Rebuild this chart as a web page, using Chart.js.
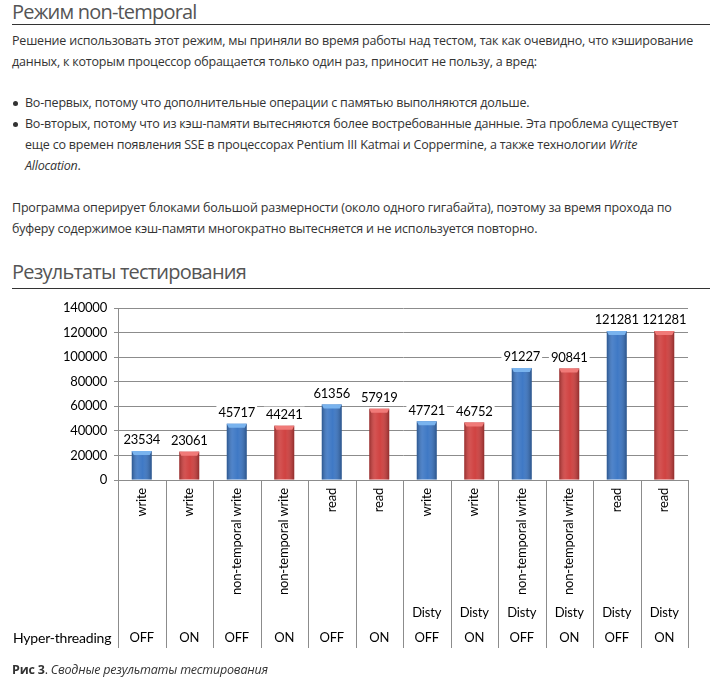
<!DOCTYPE html>
<html>
<head>
<meta charset="utf-8">
<script src="https://cdn.jsdelivr.net/npm/chart.js@4.4.0/dist/chart.umd.min.js"></script>
<style>
  body { margin: 0; background: #fff; width: 710px; height: 681px; overflow: hidden; position: relative;
         font-family: "Open Sans", sans-serif; font-size: 12.5px; letter-spacing: -0.2px; color: #333; }
  .h { position: absolute; left: 12px; font-size: 20px; letter-spacing: -0.8px; color: #555; line-height: 24px; white-space: nowrap; }
  .rule { position: absolute; left: 12px; right: 0; height: 1px; background: #333; }
  .p { position: absolute; left: 12px; right: 16px; line-height: 21px; }
  .p i { font-style: italic; }
  .b { position: relative; padding-left: 13px; }
  .b:before { content: ""; position: absolute; left: 1px; top: 9px; width: 5px; height: 5px; border-radius: 50%; background: #333; }
  #wrap { position: absolute; left: 0; top: 290px; width: 710px; height: 370px; }
  .cap { position: absolute; left: 12px; top: 659px; line-height: 21px; }
</style>
</head>
<body>
<div class="h" style="top:0">Режим non-temporal</div>
<div class="rule" style="top:24px"></div>
<div class="p" style="top:30px">Решение использовать этот режим, мы приняли во время работы над тестом, так как очевидно, что кэширование данных, к которым процессор обращается только один раз, приносит не пользу, а вред:</div>
<div class="p" style="top:92px">
  <div class="b">Во-первых, потому что дополнительные операции с памятью выполняются дольше.</div>
  <div class="b">Во-вторых, потому что из кэш-памяти вытесняются более востребованные данные. Эта проблема существует еще со времен появления SSE в процессорах Pentium III Katmai и Coppermine, а также технологии <i>Write Allocation</i>.</div>
</div>
<div class="p" style="top:197px">Программа оперирует блоками большой размерности (около одного гигабайта), поэтому за время прохода по буферу содержимое кэш-памяти многократно вытесняется и не используется повторно.</div>
<div class="h" style="top:260px">Результаты тестирования</div>
<div class="rule" style="top:288px"></div>
<div id="wrap"><canvas id="chart" width="710" height="370"></canvas></div>
<div class="cap"><b>Рис 3</b>. <i>Сводные результаты тестирования</i></div>

<script>
const ops = ['write', 'write', 'non-temporal write', 'non-temporal write', 'read', 'read',
             'write', 'write', 'non-temporal write', 'non-temporal write', 'read', 'read']
const mode = ['', '', '', '', '', '', 'Disty', 'Disty', 'Disty', 'Disty', 'Disty', 'Disty']
const hyperThreading = ['OFF', 'ON', 'OFF', 'ON', 'OFF', 'ON', 'OFF', 'ON', 'OFF', 'ON', 'OFF', 'ON']
const results = [23534, 23061, 45717, 44241, 61356, 57919, 47721, 46752, 91227, 90841, 121281, 121281]
const yMax = 140000
const yStep = 20000

const gridColor = '#8c8c8c'
const colors = { OFF: '#3b76c4', ON: '#cf3f3e' }
const capColors = { OFF: '#79b3ee', ON: '#f07a78' }
const chartFont = 'Lato, sans-serif'

// shading, top caps and value labels on the bars
const barDecor = {
    id: 'barDecor',
    afterDatasetsDraw(chart) {
        const ctx = chart.ctx
        const meta = chart.getDatasetMeta(0)
        ctx.save()
        meta.data.forEach((bar, i) => {
            const p = bar.getProps(['x', 'y', 'base', 'width'], true)
            const l = p.x - p.width / 2, r = p.x + p.width / 2
            const g = ctx.createLinearGradient(l, 0, r, 0)
            g.addColorStop(0, 'rgba(0,0,0,0.28)')
            g.addColorStop(0.3, 'rgba(255,255,255,0.10)')
            g.addColorStop(0.55, 'rgba(255,255,255,0.02)')
            g.addColorStop(1, 'rgba(0,0,0,0.30)')
            ctx.fillStyle = g
            ctx.fillRect(l, p.y, p.width, p.base - p.y)
            ctx.fillStyle = capColors[hyperThreading[i]]
            ctx.beginPath()
            ctx.moveTo(l, p.y)
            ctx.lineTo(r, p.y)
            ctx.lineTo(r - 2, p.y + 4)
            ctx.lineTo(l + 2, p.y + 4)
            ctx.closePath()
            ctx.fill()

            const txt = String(results[i])
            ctx.font = '13px ' + chartFont
            const w = ctx.measureText(txt).width
            ctx.fillStyle = '#fff'
            ctx.fillRect(p.x - w / 2 - 2, p.y - 19, w + 4, 16)
            ctx.fillStyle = '#000'
            ctx.textAlign = 'center'
            ctx.textBaseline = 'middle'
            ctx.fillText(txt, p.x, p.y - 11)
        })
        ctx.restore()
    }
}

// category table under the axis
const table = {
    id: 'table',
    afterDraw(chart) {
        const ctx = chart.ctx
        const x = chart.scales.x
        const area = chart.chartArea
        const half = (x.getPixelForValue(1) - x.getPixelForValue(0)) / 2
        const top = area.bottom
        const bottom = top + 168
        ctx.save()
        ctx.strokeStyle = gridColor
        ctx.lineWidth = 1
        for (let i = 0; i <= ops.length; i++) {
            const px = Math.round(x.getPixelForValue(0) - half + i * 2 * half) + 0.5
            ctx.beginPath()
            ctx.moveTo(px, top)
            ctx.lineTo(px, bottom)
            ctx.stroke()
        }
        ctx.fillStyle = '#000'
        ctx.font = '13px ' + chartFont
        ops.forEach((op, i) => {
            const cx = x.getPixelForValue(i)
            ctx.save()
            ctx.translate(cx, top + 8)
            ctx.rotate(-Math.PI / 2)
            ctx.textAlign = 'right'
            ctx.textBaseline = 'middle'
            ctx.fillText(op, 0, 0)
            ctx.restore()
            ctx.textAlign = 'center'
            ctx.textBaseline = 'middle'
            if (mode[i]) ctx.fillText(mode[i], cx, top + 133)
            ctx.fillText(hyperThreading[i], cx, top + 158)
        })
        ctx.font = '14px ' + chartFont
        ctx.textAlign = 'left'
        ctx.fillText('Hyper-threading', 13, top + 158)
        ctx.restore()
    }
}

new Chart(document.getElementById('chart'), {
    type: 'bar',
    data: {
        labels: ops,
        datasets: [{
            data: results,
            backgroundColor: hyperThreading.map(h => colors[h]),
            barPercentage: 0.42,
            categoryPercentage: 1
        }]
    },
    options: {
        responsive: false,
        animation: false,
        devicePixelRatio: 1,
        layout: { padding: { top: 18, right: 22, left: 0, bottom: 0 } },
        plugins: { legend: { display: false }, tooltip: { enabled: false } },
        scales: {
            x: {
                ticks: { display: false },
                grid: { display: false },
                border: { color: gridColor },
                afterFit: s => { s.height = 180 }
            },
            y: {
                min: 0,
                max: yMax,
                ticks: {
                    stepSize: yStep, color: '#000', padding: 7,
                    font: { family: chartFont, size: 13 },
                    callback: v => String(v)
                },
                grid: { color: gridColor, tickLength: 4 },
                border: { color: gridColor },
                afterFit: s => { s.width = 118 }
            }
        }
    },
    plugins: [barDecor, table]
})
</script>
</body>
</html>
